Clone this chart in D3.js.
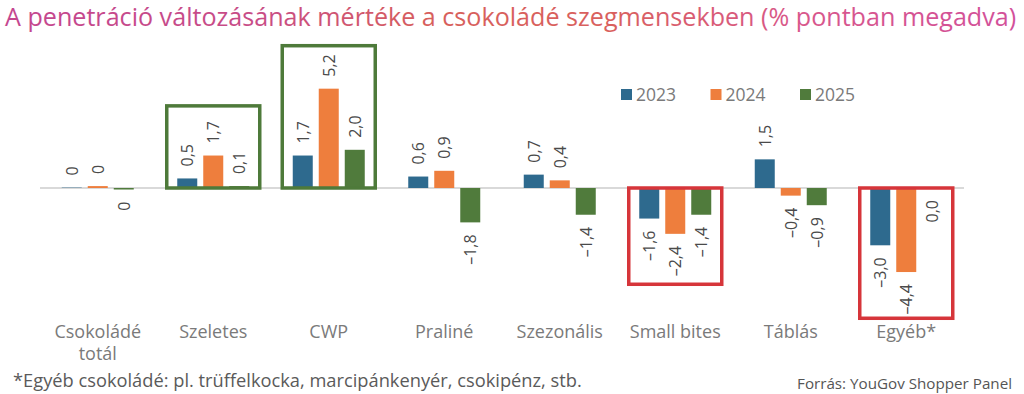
<!DOCTYPE html>
<html>
<head>
<meta charset="utf-8">
<script src="https://cdn.jsdelivr.net/npm/d3@7"></script>
<style>
  body { margin: 0; background: #fff; }
  text { font-family: "Open Sans", sans-serif; }
</style>
</head>
<body>
<div id="chart"></div>
<script>
var categories = ["Csokoládé\ntotál", "Szeletes", "CWP", "Praliné", "Szezonális", "Small bites", "Táblás", "Egyéb*"];
var years = ["2023", "2024", "2025"];
var values2023 = [0.02, 0.5, 1.7, 0.6, 0.7, -1.6, 1.5, -3.0];
var values2024 = [0.1, 1.7, 5.2, 0.9, 0.4, -2.4, -0.4, -4.4];
var values2025 = [-0.08, 0.1, 2.0, -1.8, -1.4, -1.4, -0.9, 0.0];
var labels2023 = ["0", "0,5", "1,7", "0,6", "0,7", "–1,6", "1,5", "–3,0"];
var labels2024 = ["0", "1,7", "5,2", "0,9", "0,4", "–2,4", "–0,4", "–4,4"];
var labels2025 = ["0", "0,1", "2,0", "–1,8", "–1,4", "–1,4", "–0,9", "0,0"];
var colors = ["#2e6a8e", "#ee7e3d", "#507b3c"];

// highlight boxes: category, top value, bottom value
var boxCats = ["Szeletes", "CWP", "Small bites", "Egyéb*"];
var boxTops = [4.3, 7.45, 0, 0];
var boxBottoms = [0, 0, -5.04, -6.82];
var boxColors = ["#4e7a3a", "#4e7a3a", "#d6353a", "#d6353a"];

var title = "A penetráció változásának mértéke a csokoládé szegmensekben (% pontban megadva)";
var footnote = "*Egyéb csokoládé: pl. trüffelkocka, marcipánkenyér, csokipénz, stb.";
var source = "Forrás: YouGov Shopper Panel";

var width = 1024, height = 394;

var series = [values2023, values2024, values2025];
var seriesLabels = [labels2023, labels2024, labels2025];

var svg = d3.select("#chart").append("svg")
    .attr("width", width)
    .attr("height", height);

var x0 = d3.scaleBand()
    .domain(categories)
    .range([40, 964]);

var x1 = d3.scaleBand()
    .domain(years)
    .range([x0.bandwidth() / 2 - 36, x0.bandwidth() / 2 + 36])
    .paddingInner(6 / 26);

var y = d3.scaleLinear()
    .domain([-5, 6])
    .range([188 + 5 * 19.1, 188 - 6 * 19.1]);

// title with gradient
var grad = svg.append("defs").append("linearGradient")
    .attr("id", "tg")
    .attr("gradientUnits", "userSpaceOnUse")
    .attr("x1", 5).attr("x2", 1017).attr("y1", 0).attr("y2", 0);
[[0, "#c4468f"], [0.25, "#c84c86"], [0.42, "#d75f5c"], [0.6, "#d9605e"], [0.78, "#d8578a"], [1, "#d2509a"]]
    .forEach(function(s) {
        grad.append("stop").attr("offset", s[0]).attr("stop-color", s[1]);
    });

function fitText(sel, target) {
    var w = sel.node().getComputedTextLength();
    var fs = parseFloat(sel.attr("font-size"));
    sel.attr("font-size", fs * target / w);
}

var t = svg.append("text")
    .attr("x", 5).attr("y", 26)
    .attr("font-size", 22)
    .attr("fill", "url(#tg)")
    .text(title);
fitText(t, 1012);

// zero line
svg.append("line")
    .attr("x1", 40).attr("x2", 964)
    .attr("y1", y(0)).attr("y2", y(0))
    .attr("stroke", "#d9d9d9")
    .attr("stroke-width", 2);

// bars
var groups = svg.selectAll(".grp")
    .data(categories)
    .enter().append("g")
    .attr("class", "grp")
    .attr("transform", function(d) { return "translate(" + x0(d) + ",0)"; });

groups.each(function(cat, i) {
    var g = d3.select(this);
    years.forEach(function(yr, j) {
        var v = series[j][i];
        g.append("rect")
            .attr("x", x1(yr))
            .attr("y", y(Math.max(0, v)))
            .attr("width", x1.bandwidth())
            .attr("height", Math.abs(y(v) - y(0)))
            .attr("fill", colors[j]);

        var cx = x1(yr) + x1.bandwidth() / 2;
        var above = v > 0;
        var ly = above ? y(v) - 12 : y(Math.min(0, v)) + 12;
        g.append("text")
            .attr("transform", "translate(" + cx + "," + ly + ") rotate(-90)")
            .attr("text-anchor", above ? "start" : "end")
            .attr("dy", "0.36em")
            .attr("font-size", 16)
            .attr("fill", "#4a4a4a")
            .text(seriesLabels[j][i]);
    });
});

// highlight boxes
svg.selectAll(".box")
    .data(boxCats)
    .enter().append("rect")
    .attr("class", "box")
    .attr("x", function(d) { return x0(d) + x0.bandwidth() / 2 - 46.5; })
    .attr("width", 93)
    .attr("y", function(d, i) { return y(boxTops[i]); })
    .attr("height", function(d, i) { return y(boxBottoms[i]) - y(boxTops[i]); })
    .attr("fill", "none")
    .attr("stroke", function(d, i) { return boxColors[i]; })
    .attr("stroke-width", 3.5);

// category labels
svg.selectAll(".cat")
    .data(categories)
    .enter().append("text")
    .attr("class", "cat")
    .attr("text-anchor", "middle")
    .attr("font-size", 18)
    .attr("fill", "#7a7a7a")
    .each(function(d) {
        var el = d3.select(this);
        d.split("\n").forEach(function(line, k) {
            el.append("tspan")
                .attr("x", x0(d) + x0.bandwidth() / 2)
                .attr("y", 338 + k * 22)
                .text(line);
        });
    });

// legend
var legend = svg.selectAll(".leg")
    .data(years)
    .enter().append("g")
    .attr("class", "leg")
    .attr("transform", function(d, i) { return "translate(" + (621 + i * 89.5) + ",89)"; });
legend.append("rect")
    .attr("width", 11).attr("height", 11)
    .attr("fill", function(d, i) { return colors[i]; });
legend.append("text")
    .attr("x", 15).attr("y", 12)
    .attr("font-size", 17.5)
    .attr("fill", "#7a7a7a")
    .text(function(d) { return d; });

// footnote and source
var fn = svg.append("text")
    .attr("x", 13).attr("y", 387)
    .attr("font-size", 15)
    .attr("fill", "#5a5a5a")
    .text(footnote);
fitText(fn, 569);

var src = svg.append("text")
    .attr("x", 1012).attr("y", 389)
    .attr("text-anchor", "end")
    .attr("font-size", 14)
    .attr("fill", "#555")
    .text(source);
fitText(src, 215);
</script>
</body>
</html>
